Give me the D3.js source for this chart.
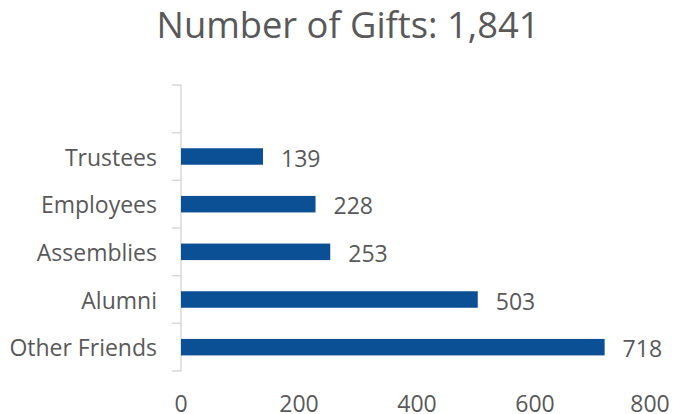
<!DOCTYPE html>
<html lang="en">
<head>
  <meta charset="UTF-8">
  <title>Number of Gifts</title>
  <script src="https://d3js.org/d3.v7.min.js"></script>
  <style>
    body { margin: 0; background: #fff; font-family: "Open Sans", Lato, sans-serif; }
    svg { display: block; }
    text { fill: #595959; }
  </style>
</head>
<body>
  <svg id="chart"></svg>
  <script>
    // data, top to bottom
    const categories = ["Trustees", "Employees", "Assemblies", "Alumni", "Other Friends"];
    const gifts = [139, 228, 253, 503, 718];
    const xTicks = [0, 200, 400, 600, 800];
    const title = "Number of Gifts: 1,841";

    const W = 677, H = 414;
    const svg = d3.select("#chart").attr("width", W).attr("height", H);

    const data = categories.map((c, i) => ({ cat: c, value: gifts[i] }));

    const x = d3.scaleLinear().domain([0, 800]).range([181, 653]);
    // one empty slot above the first category, like the original
    const y = d3.scaleBand()
      .domain(["__blank__"].concat(categories))
      .range([85, 371])
      .paddingInner(0).paddingOuter(0);

    const barH = 16.5;

    svg.append("text")
      .attr("x", 348).attr("y", 38)
      .attr("text-anchor", "middle")
      .style("font-size", "36.3px")
      .text(title);

    // category axis
    const axis = svg.append("g").attr("stroke", "#d9d9d9").attr("stroke-width", 1.5);
    axis.append("line")
      .attr("x1", x(0)).attr("x2", x(0))
      .attr("y1", y.range()[0]).attr("y2", y.range()[1]);
    const bounds = y.domain().map(d => y(d)).concat([y.range()[1]]);
    axis.selectAll(".tick")
      .data(bounds)
      .enter().append("line")
      .attr("x1", x(0) - 9).attr("x2", x(0))
      .attr("y1", d => d).attr("y2", d => d);

    svg.selectAll(".bar")
      .data(data)
      .enter().append("rect")
      .attr("class", "bar")
      .attr("x", x(0))
      .attr("y", d => y(d.cat) + y.bandwidth() / 2 - barH / 2)
      .attr("width", d => x(d.value) - x(0))
      .attr("height", barH)
      .attr("fill", "#0b4f94");

    svg.selectAll(".val")
      .data(data)
      .enter().append("text")
      .attr("x", d => x(d.value) + 18)
      .attr("y", d => y(d.cat) + y.bandwidth() / 2 + 10)
      .style("font-size", "23px")
      .text(d => d.value);

    svg.selectAll(".cat")
      .data(data)
      .enter().append("text")
      .attr("x", 157)
      .attr("y", d => y(d.cat) + y.bandwidth() / 2 + 9)
      .attr("text-anchor", "end")
      .style("font-size", "23px")
      .text(d => d.cat);

    // value axis labels sit at the very bottom edge, as in the original
    svg.selectAll(".xt")
      .data(xTicks)
      .enter().append("text")
      .attr("x", d => x(d) - (d === 800 ? 3 : 0))
      .attr("y", 412)
      .attr("text-anchor", "middle")
      .style("font-size", "23px")
      .text(d => d);
  </script>
</body>
</html>
